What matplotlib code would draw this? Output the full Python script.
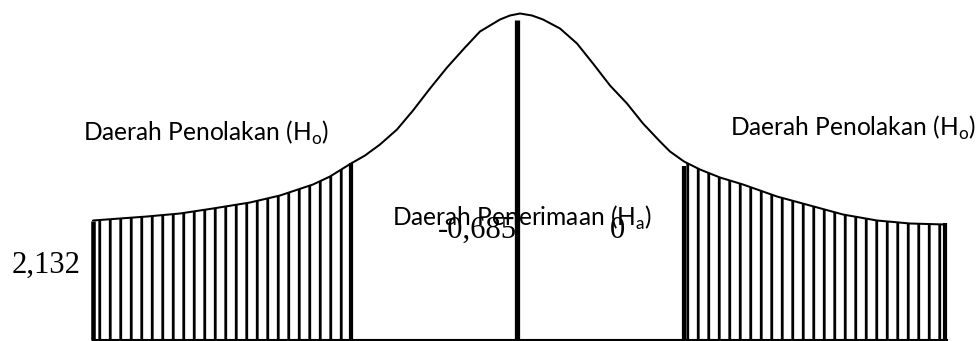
import matplotlib
matplotlib.use("Agg")
import matplotlib.pyplot as plt
import numpy as np

# ---- data (x position, height above baseline) ----
curve_x = [93, 120, 147, 180, 213, 250, 280, 313, 330, 351, 365, 380, 397, 413, 430, 447,
           465, 480, 500, 510, 520, 532, 543, 560, 577, 593, 610, 627, 643, 660, 670,
           684, 700, 720, 743, 777, 810, 843, 877, 910, 945]
curve_h = [119, 121, 123, 126, 131, 137, 144, 155, 163, 176, 184, 195, 210, 229, 251, 272,
           292, 308, 320, 324, 326, 324, 320, 311, 296, 276, 254, 236, 216, 198, 188,
           178, 170, 162, 155, 143, 134, 125, 119, 116, 115]

left_crit = 351      # left rejection boundary
right_crit = 684     # right rejection boundary
boundary_x = [93, 351, 517, 684, 945]
boundary_top = [119, 177, 320, 174, 117]
boundary_w = [2.6, 2.4, 3.0, 2.4, 2.4]

reject_label = "Daerah Penolakan (H$_{\\mathregular{o}}$)"
accept_label = "Daerah Penerimaan (H$_{\\mathregular{a}}$)"
value_labels = ["2,132", "-0,685", "0"]

DPI = 126
plt.rcParams["hatch.linewidth"] = 1.6
plt.rcParams["hatch.color"] = "black"
plt.rcParams["mathtext.fontset"] = "custom"
plt.rcParams["mathtext.rm"] = "Lato"

fig = plt.figure(figsize=(976 / DPI, 341 / DPI), dpi=DPI)
fig.patch.set_facecolor("white")
ax = fig.add_axes([0, 0, 1, 1])
ax.set_xlim(0, 976)
ax.set_ylim(-1.5, 339.5)
ax.axis("off")

cx = np.array(curve_x)
ch = np.array(curve_h)

# hatched rejection regions
ax.fill_between(cx, 0, ch, where=cx <= left_crit, facecolor="none",
                edgecolor="black", hatch="||", linewidth=0)
ax.fill_between(cx, 0, ch, where=cx >= right_crit, facecolor="none",
                edgecolor="black", hatch="||", linewidth=0)

# curve
ax.plot(cx, ch, color="black", lw=1.15, solid_capstyle="round",
        solid_joinstyle="round")

# baseline
ax.plot([curve_x[0], curve_x[-1] + 2], [0, 0], color="black", lw=1.2)

# vertical boundary lines
for bx, bt, bw in zip(boundary_x, boundary_top, boundary_w):
    ax.plot([bx, bx], [0, bt], color="black", lw=bw, solid_capstyle="butt")

sans = "Lato"
serif = "Liberation Serif"
fs_label = 14.0
fs_num = 17.5

ax.text(83, 199, reject_label, fontsize=fs_label, family=sans,
        ha="left", va="baseline")
ax.text(730, 204, reject_label, fontsize=fs_label, family=sans,
        ha="left", va="baseline")
ax.text(392, 114, accept_label, fontsize=fs_label, family=sans,
        ha="left", va="baseline")

ax.text(12, 67, value_labels[0], fontsize=fs_num, family=serif,
        ha="left", va="baseline")
ax.text(438, 102, value_labels[1], fontsize=fs_num, family=serif,
        ha="left", va="baseline")
ax.text(610, 102, value_labels[2], fontsize=fs_num, family=serif,
        ha="left", va="baseline")

fig.savefig("out.png", dpi=DPI, facecolor="white")
